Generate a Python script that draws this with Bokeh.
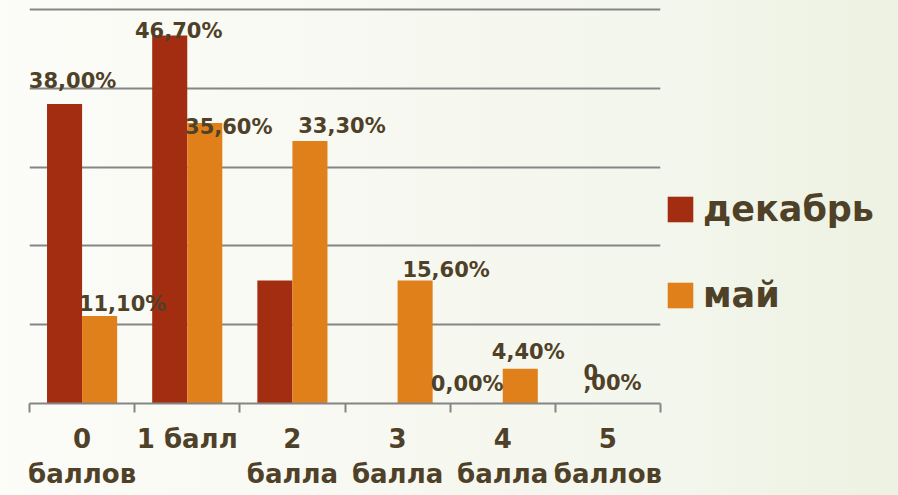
from bokeh.plotting import figure
from bokeh.models import (ColumnDataSource, Range1d, FixedTicker, Legend, LegendItem)
from bokeh.core.properties import value
from bokeh.embed import file_html
from bokeh.resources import INLINE

# ---- data ----
categories = ["0\nбаллов", "1 балл", "2\nбалла", "3\nбалла", "4\nбалла", "5\nбаллов"]
series_names = ["декабрь", "май"]
dec_values = [38.0, 46.7, 15.6, 0.0, 0.0, 0.0]
may_values = [11.1, 35.6, 33.3, 15.6, 4.4, 0.0]
dec_labels = ["38,00%", "46,70%", "", "", "0,00%", "0\n,00%"]
may_labels = ["11,10%", "35,60%", "33,30%", "15,60%", "4,40%", ""]

# ---- label placement (screen px, styling only) ----
dec_dx = [8, 9, 0, 0, -18, -7]
dec_dy = [-11, 8, 0, 0, -8, -8]
dec_align = ["center", "center", "center", "center", "center", "left"]
may_dx = [23, 24, 32, 31, 8, 0]
may_dy = [0, 16, -3, 1, -5, 0]

DEC_COLOR = "#A32D10"
MAY_COLOR = "#E0801A"
TEXT_COLOR = "#4F4128"
GRID_COLOR = "#858585"
FONT = "DejaVu Sans"

xs = list(range(len(categories)))
W = 1 / 3

p = figure(frame_width=631, frame_height=403, output_backend="svg", toolbar_location=None,
           x_range=Range1d(-0.5, len(categories) - 0.5), y_range=Range1d(0, 51.14),
           min_border_left=29, min_border_right=238, min_border_top=0,
           min_border_bottom=92)
p.styles = {"background": "linear-gradient(to right, #fcfcf8 0%, #f3f6ec 50%, #e1e9cd 100%)"}
p.background_fill_color = None
p.border_fill_color = None
p.outline_line_color = None

src = ColumnDataSource(dict(
    x=xs, dec=dec_values, may=may_values,
    dec_lab=dec_labels, may_lab=may_labels,
    dec_dx=dec_dx, dec_dy=dec_dy, dec_align=dec_align,
    may_dx=may_dx, may_dy=may_dy,
    xd=[x - W / 2 for x in xs], xm=[x + W / 2 for x in xs],
))

r_dec = p.vbar(x="xd", top="dec", width=W, source=src, fill_color=DEC_COLOR, line_color=None)
r_may = p.vbar(x="xm", top="may", width=W, source=src, fill_color=MAY_COLOR, line_color=None)

p.text(x="xd", y="dec", text="dec_lab", x_offset="dec_dx", y_offset="dec_dy",
       text_align="dec_align", text_baseline="bottom", source=src,
       text_font=value(FONT), text_font_style="bold", text_font_size="21px",
       text_color=TEXT_COLOR, text_line_height=0.45)
p.text(x="xm", y="may", text="may_lab", x_offset="may_dx", y_offset="may_dy",
       text_align="center", text_baseline="bottom", source=src,
       text_font=value(FONT), text_font_style="bold", text_font_size="21px",
       text_color=TEXT_COLOR)

# axes
p.yaxis.visible = False
p.ygrid.ticker = FixedTicker(ticks=[10, 20, 30, 40, 50])
p.ygrid.grid_line_color = GRID_COLOR
p.ygrid.grid_line_width = 2
p.xgrid.visible = False

xa = p.xaxis[0]
xa.ticker = FixedTicker(ticks=xs, minor_ticks=[x - 0.5 for x in xs] + [xs[-1] + 0.5])
xa.major_label_overrides = {i: c for i, c in enumerate(categories)}
xa.major_tick_out = 0
xa.major_tick_in = 0
xa.minor_tick_out = 9
xa.minor_tick_in = 0
xa.minor_tick_line_color = GRID_COLOR
xa.minor_tick_line_width = 2
xa.axis_line_color = GRID_COLOR
xa.axis_line_width = 2
xa.major_label_text_font = FONT
xa.major_label_text_font_style = "bold"
xa.major_label_text_font_size = "26px"
xa.major_label_text_color = TEXT_COLOR
xa.major_label_text_line_height = 1.18
xa.major_label_standoff = 11

legend = Legend(items=[LegendItem(label=series_names[0], renderers=[r_dec]),
                       LegendItem(label=series_names[1], renderers=[r_may])],
                location="top_left", orientation="vertical", margin=4,
                title=" ", title_text_font_size="2px", title_standoff=183,
                glyph_width=32, glyph_height=32, label_standoff=7, spacing=46,
                padding=0, border_line_color=None, background_fill_color=None,
                background_fill_alpha=0,
                label_text_font=FONT, label_text_font_style="bold",
                label_text_font_size="35px", label_text_color=TEXT_COLOR)
p.add_layout(legend, "right")

open("out.html", "w").write(file_html(p, INLINE))
